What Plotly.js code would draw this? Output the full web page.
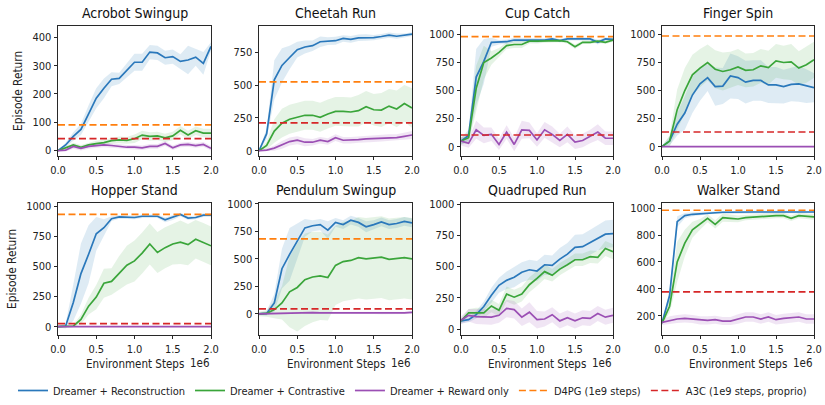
<!DOCTYPE html>
<html>
<head>
<meta charset="utf-8">
<script src="https://cdn.plot.ly/plotly-3.0.1.min.js"></script>
<style>html,body{margin:0;padding:0;background:#fff;} #chart{width:825px;height:405px;}</style>
</head>
<body>
<div id="chart"></div>
<script>
// ---------- DATA ----------
const steps = [0.0,0.1,0.2,0.3,0.4,0.5,0.6,0.7,0.8,0.9,1.0,1.1,1.2,1.3,1.4,1.5,1.6,1.7,1.8,1.9,2.0];
const xTickVals = [0, 0.5, 1.0, 1.5, 2.0];
const xTickText = ['0.0', '0.5', '1.0', '1.5', '2.0'];
const taskNames = ['Acrobot Swingup','Cheetah Run','Cup Catch','Finger Spin','Hopper Stand','Pendulum Swingup','Quadruped Run','Walker Stand'];
const seriesNames = ['Dreamer + Reconstruction','Dreamer + Contrastive','Dreamer + Reward only','D4PG (1e9 steps)','A3C (1e9 steps, proprio)'];

// Acrobot Swingup
const acrobotRecon    = [0,20,50,75,130,185,220,252,255,285,312,312,348,345,328,332,315,320,330,308,368];
const acrobotReconSd  = [2,8,15,20,30,35,35,25,20,25,30,30,25,25,25,25,25,50,30,40,15];
const acrobotContr    = [0,10,20,12,20,25,28,35,38,36,42,55,50,52,45,52,72,55,70,62,62];
const acrobotContrSd  = [2,5,8,8,8,10,10,10,12,12,15,15,15,15,15,15,15,15,15,15,15];
const acrobotReward   = [0,2,15,8,15,18,20,18,15,12,12,10,15,15,25,10,20,22,18,22,8];
const acrobotRewardSd = [2,5,8,8,8,8,8,8,8,8,8,8,8,8,8,8,8,8,8,8,8];
const acrobotD4PG = 91, acrobotA3C = 42;
const acrobotYTicks = [0,100,200,300,400];

// Cheetah Run
const cheetahRecon    = [0,130,540,650,710,770,790,800,830,835,838,855,848,860,862,862,870,880,872,878,888];
const cheetahReconSd  = [5,40,150,130,90,60,50,40,40,30,30,25,25,25,25,20,20,20,20,15,15];
const cheetahContr    = [0,40,150,210,240,255,270,270,255,280,300,300,295,305,335,312,310,340,318,360,325];
const cheetahContrSd  = [5,30,90,110,110,110,110,110,110,110,110,110,110,120,120,120,130,130,140,140,150];
const cheetahReward   = [0,5,20,45,70,80,65,65,80,70,100,80,80,85,90,92,95,100,100,110,120];
const cheetahRewardSd = [5,10,20,30,30,30,30,25,25,25,25,25,25,25,25,25,25,25,25,25,30];
const cheetahD4PG = 524, cheetahA3C = 213;
const cheetahYTicks = [0,250,500,750];

// Cup Catch
const cupRecon    = [50,100,620,760,930,930,935,950,950,950,945,950,960,945,960,960,960,960,930,960,955];
const cupReconSd  = [30,50,250,200,40,20,20,20,20,20,20,15,15,15,15,15,15,15,20,15,15];
const cupContr    = [50,80,520,750,790,840,900,910,910,940,940,940,945,945,935,890,930,930,940,930,950];
const cupContrSd  = [30,50,200,150,60,40,30,30,30,20,20,15,15,15,15,20,15,15,15,15,15];
const cupReward   = [50,30,150,100,110,20,130,20,150,145,60,150,110,55,110,40,55,90,130,75,75];
const cupRewardSd = [40,40,80,70,60,50,60,60,80,70,60,70,70,60,70,60,60,60,70,60,60];
const cupD4PG = 980, cupA3C = 104;
const cupYTicks = [0,250,500,750,1000];

// Finger Spin
const fingerRecon    = [0,50,200,300,460,560,615,535,540,630,615,575,590,590,550,550,535,555,560,540,525];
const fingerReconSd  = [5,40,100,150,160,150,120,170,160,200,190,190,180,180,160,160,150,150,160,150,130];
const fingerContr    = [0,50,330,500,640,700,750,690,670,685,710,680,685,720,705,765,750,755,700,730,775];
const fingerContrSd  = [5,50,180,200,180,170,160,170,170,160,160,150,150,150,150,150,150,160,150,160,160];
const fingerReward   = [0,0,0,0,0,1,1,1,0,0,0,0,1,1,1,3,2,2,5,1,0];
const fingerRewardSd = [3,3,3,3,3,3,3,3,3,3,3,3,3,3,3,3,3,3,3,3,3];
const fingerD4PG = 986, fingerA3C = 131;
const fingerYTicks = [0,250,500,750,1000];

// Hopper Stand
const hopperRecon    = [0,5,200,440,600,770,820,895,910,910,905,915,915,915,885,905,930,900,905,925,925];
const hopperReconSd  = [5,20,150,250,240,140,70,20,15,15,15,15,15,15,20,20,15,15,15,15,15];
const hopperContr    = [0,0,5,60,170,245,360,375,445,510,545,610,685,615,655,685,700,680,725,700,670];
const hopperContrSd  = [5,5,10,40,70,100,120,110,140,160,170,170,170,170,170,170,180,170,160,160,160];
const hopperReward   = [0,0,0,0,0,0,0,0,0,0,0,0,0,0,0,0,0,0,0,0,0];
const hopperRewardSd = [2,2,2,2,2,2,2,2,2,2,2,2,2,2,2,2,2,2,2,2,2];
const hopperD4PG = 931, hopperA3C = 25;
const hopperYTicks = [0,250,500,750,1000];

// Pendulum Swingup
const pendulumRecon    = [0,5,100,410,540,660,780,800,810,760,830,810,850,830,790,810,835,810,820,840,825];
const pendulumReconSd  = [10,20,80,180,240,160,80,50,50,80,40,40,40,40,50,40,40,40,40,40,40];
const pendulumContr    = [0,5,40,100,200,240,310,335,345,330,440,475,485,510,500,505,515,495,505,510,500];
const pendulumContrSd  = [20,30,80,150,320,400,420,410,400,390,360,360,360,370,370,370,370,370,370,370,370];
const pendulumReward   = [0,2,5,8,10,12,15,12,10,10,8,10,12,10,8,10,8,10,8,10,15];
const pendulumRewardSd = [10,10,10,10,10,10,10,10,10,10,10,10,10,10,10,10,10,10,10,10,10];
const pendulumD4PG = 681, pendulumA3C = 46;
const pendulumYTicks = [0,250,500,750,1000];

// Quadruped Run
const quadRecon    = [65,75,115,180,270,350,390,415,455,475,465,515,510,560,600,655,660,695,730,760,765];
const quadReconSd  = [20,20,30,40,60,60,70,80,80,80,80,80,80,90,90,100,100,100,100,110,110];
const quadContr    = [65,130,130,130,185,150,280,255,280,355,405,460,430,480,515,555,555,580,575,645,620];
const quadContrSd  = [20,30,40,40,50,50,60,60,60,60,60,60,50,50,50,50,50,50,50,60,60];
const quadReward   = [70,110,100,95,95,110,165,155,95,135,75,80,115,65,90,65,90,85,125,95,110];
const quadRewardSd = [30,50,60,60,60,60,70,70,70,80,70,60,60,60,60,60,60,60,60,60,60];
const quadD4PG = null, quadA3C = null;
const quadYTicks = [0,250,500,750,1000];

// Walker Stand
const walkerRecon    = [145,350,900,945,955,960,965,968,970,970,972,972,972,972,972,972,972,972,972,972,972];
const walkerReconSd  = [10,40,40,20,15,10,10,10,10,10,10,10,10,10,10,10,10,10,10,10,10];
const walkerContr    = [145,270,600,740,840,880,925,880,930,925,920,930,935,935,940,945,945,925,945,940,935];
const walkerContrSd  = [10,50,150,100,60,40,30,30,30,25,25,20,20,20,20,20,20,20,20,20,20];
const walkerReward   = [150,165,175,180,175,165,165,170,160,160,175,190,190,175,190,170,180,185,190,175,175];
const walkerRewardSd = [20,30,30,30,30,30,30,30,30,30,35,35,35,35,35,35,35,35,35,35,35];
const walkerD4PG = 985, walkerA3C = 377;
const walkerYTicks = [200,400,600,800,1000];

// ---------- STYLE / LAYOUT ----------
const W = 825, H = 405;
const FONT = '"DejaVu Sans Condensed", "DejaVu Sans", sans-serif';
const colors = ['#2a78bb', '#3aa53a', '#9b4fb4', '#ff7f0e', '#d62728'];
const bandColors = ['rgba(31,119,180,0.15)', 'rgba(44,160,44,0.12)', 'rgba(155,79,180,0.15)'];
const colL = [58, 259, 461, 662], colR = [211, 412, 613, 814];
const rowT = [26, 203], rowB = [156, 335];
const yRanges = [[-19,440],[-40,950],[-83,1075],[-83,1075],[-69,1025],[-191,1006],[-48,1010],[56,1039]];

const panels = [
  [acrobotRecon, acrobotReconSd, acrobotContr, acrobotContrSd, acrobotReward, acrobotRewardSd, acrobotD4PG, acrobotA3C, acrobotYTicks],
  [cheetahRecon, cheetahReconSd, cheetahContr, cheetahContrSd, cheetahReward, cheetahRewardSd, cheetahD4PG, cheetahA3C, cheetahYTicks],
  [cupRecon, cupReconSd, cupContr, cupContrSd, cupReward, cupRewardSd, cupD4PG, cupA3C, cupYTicks],
  [fingerRecon, fingerReconSd, fingerContr, fingerContrSd, fingerReward, fingerRewardSd, fingerD4PG, fingerA3C, fingerYTicks],
  [hopperRecon, hopperReconSd, hopperContr, hopperContrSd, hopperReward, hopperRewardSd, hopperD4PG, hopperA3C, hopperYTicks],
  [pendulumRecon, pendulumReconSd, pendulumContr, pendulumContrSd, pendulumReward, pendulumRewardSd, pendulumD4PG, pendulumA3C, pendulumYTicks],
  [quadRecon, quadReconSd, quadContr, quadContrSd, quadReward, quadRewardSd, quadD4PG, quadA3C, quadYTicks],
  [walkerRecon, walkerReconSd, walkerContr, walkerContrSd, walkerReward, walkerRewardSd, walkerD4PG, walkerA3C, walkerYTicks]
];

const px = v => v / W;
const py = v => 1 - v / H;

const traces = [];
const layout = {
  width: W, height: H,
  margin: {l: 0, r: 0, t: 0, b: 0},
  paper_bgcolor: '#fff', plot_bgcolor: '#fff',
  font: {family: FONT, size: 11, color: '#222'},
  showlegend: true,
  legend: {
    orientation: 'h', x: 0.5, xanchor: 'center', y: 0, yanchor: 'bottom',
    font: {family: FONT, size: 11, color: '#222'}, itemwidth: 30, traceorder: 'normal',
    bgcolor: 'rgba(0,0,0,0)'
  },
  annotations: [],
  hovermode: false
};

panels.forEach((p, i) => {
  const r = Math.floor(i / 4), c = i % 4;
  const n = i + 1;
  const xa = 'x' + (n === 1 ? '' : n), ya = 'y' + (n === 1 ? '' : n);
  const xk = 'xaxis' + (n === 1 ? '' : n), yk = 'yaxis' + (n === 1 ? '' : n);
  const axBase = {
    showline: true, mirror: true, linecolor: '#111', linewidth: 0.9,
    ticks: 'outside', ticklen: 3.5, tickwidth: 0.9, tickcolor: '#111',
    showgrid: false, zeroline: false, fixedrange: true,
    tickfont: {family: FONT, size: 11, color: '#222'}
  };
  layout[xk] = Object.assign({}, axBase, {
    domain: [px(colL[c]), px(colR[c])], anchor: ya,
    range: [0, 2], tickmode: 'array', tickvals: xTickVals, ticktext: xTickText
  });
  layout[yk] = Object.assign({}, axBase, {
    domain: [py(rowB[r]), py(rowT[r])], anchor: xa,
    range: yRanges[i], tickmode: 'array', tickvals: p[8], ticktext: p[8].map(String)
  });

  // bands
  for (let s = 0; s < 3; s++) {
    const m = p[2 * s], sd = p[2 * s + 1];
    const up = m.map((v, k) => v + sd[k]);
    const lo = m.map((v, k) => v - sd[k]);
    traces.push({
      x: steps.concat(steps.slice().reverse()),
      y: up.concat(lo.slice().reverse()),
      xaxis: xa, yaxis: ya, type: 'scatter', mode: 'lines',
      fill: 'toself', fillcolor: bandColors[s], line: {width: 0, color: 'rgba(0,0,0,0)'},
      showlegend: false, hoverinfo: 'skip'
    });
  }
  // lines
  for (let s = 0; s < 3; s++) {
    traces.push({
      x: steps, y: p[2 * s], xaxis: xa, yaxis: ya, type: 'scatter', mode: 'lines',
      line: {color: colors[s], width: 1.7},
      name: seriesNames[s], legendgroup: 'g' + s, showlegend: i === 0
    });
  }
  // baselines
  const base = [p[6], p[7]];
  for (let b = 0; b < 2; b++) {
    if (base[b] === null) continue;
    traces.push({
      x: [steps[0], steps[steps.length - 1]], y: [base[b], base[b]], xaxis: xa, yaxis: ya,
      type: 'scatter', mode: 'lines',
      line: {color: colors[3 + b], width: 1.7, dash: '7px,3.5px'},
      name: seriesNames[3 + b], legendgroup: 'b' + b, showlegend: i === 0
    });
  }

  // subplot title
  layout.annotations.push({
    text: taskNames[i], xref: 'paper', yref: 'paper',
    x: px((colL[c] + colR[c]) / 2), y: py(rowT[r] - 3), xanchor: 'center', yanchor: 'bottom',
    showarrow: false, font: {family: FONT, size: 14, color: '#111'}
  });
  if (c === 0) {
    layout.annotations.push({
      text: 'Episode Return', xref: 'paper', yref: 'paper', textangle: -90,
      x: px(r === 0 ? 18 : 12), y: py((rowT[r] + rowB[r]) / 2), xanchor: 'center', yanchor: 'middle',
      showarrow: false, font: {family: FONT, size: 11.8, color: '#222'}
    });
  }
  if (r === 1) {
    layout.annotations.push({
      text: 'Environment Steps', xref: 'paper', yref: 'paper',
      x: px((colL[c] + colR[c]) / 2), y: py(364), xanchor: 'center', yanchor: 'middle',
      showarrow: false, font: {family: FONT, size: 11.5, color: '#222'}
    });
    layout.annotations.push({
      text: '1e6', xref: 'paper', yref: 'paper',
      x: px(colR[c] + 1), y: py(363), xanchor: 'right', yanchor: 'middle',
      showarrow: false, font: {family: FONT, size: 11.5, color: '#222'}
    });
  }
});

Plotly.newPlot('chart', traces, layout, {displayModeBar: false, staticPlot: true});
</script>
</body>
</html>
